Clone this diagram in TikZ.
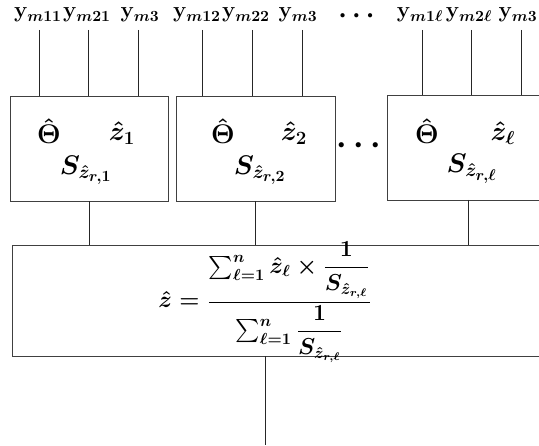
\documentclass[tikz,border=0pt]{standalone}
\usepackage{amsmath}
\begin{document}
\begin{tikzpicture}[x=1pt,y=-1pt,
  wire/.style={draw=black!85,line width=0.6pt},
  blk/.style={draw=black!75,line width=0.8pt,inner sep=0pt},
  lab/.style={font=\Large\boldmath,inner sep=0pt,scale=1.55},
  inbox/.style={font=\LARGE\boldmath,inner sep=0pt,scale=1.56},
  dotsty/.style={font=\boldmath,inner sep=0pt},
  formula/.style={font=\Large\boldmath,inner sep=0pt,scale=1.6}]
\useasboundingbox (0,0) rectangle (539,446);
\clip (0,0) rectangle (539,446);
% blocks
\node[blk,minimum width=158pt,minimum height=105pt] (b1) at (89,148.5) {};
\node[blk,minimum width=159pt,minimum height=105pt] (b2) at (255.5,148.5) {};
\node[blk,minimum width=160pt,minimum height=105pt] (b3) at (467,148) {};
\node[blk,minimum width=560pt,minimum height=111pt] (big) at (292,300.5) {};
% top labels
\node[lab] (l11) at (38,15) {$\mathbf{y}_{m11}$};
\node[lab] (l21) at (87,15) {$\mathbf{y}_{m21}$};
\node[lab] (l31) at (140,15) {$\mathbf{y}_{m3}$};
\node[lab] (l12) at (197,15) {$\mathbf{y}_{m12}$};
\node[lab] (l22) at (246,15) {$\mathbf{y}_{m22}$};
\node[lab] (l32) at (298,15) {$\mathbf{y}_{m3}$};
\node[dotsty,scale=2.7] (tdots) at (359,16) {$\cdots$};
\node[lab] (l1l) at (420,15) {$\mathbf{y}_{m1\ell}$};
\node[lab] (l2l) at (469,15) {$\mathbf{y}_{m2\ell}$};
\node[lab] (l3l) at (518,15) {$\mathbf{y}_{m3}$};
% wires top
\coordinate (t11) at (39,30);
\coordinate (t21) at (88,30);
\coordinate (t31) at (138,30);
\coordinate (t12) at (202,30);
\coordinate (t22) at (252,30);
\coordinate (t32) at (302,30);
\coordinate (t1l) at (422,30);
\coordinate (t2l) at (471,30);
\coordinate (t3l) at (521,30);
\foreach \c/\b in {t11/b1,t21/b1,t31/b1,t12/b2,t22/b2,t32/b2,t1l/b3,t2l/b3,t3l/b3}
  \draw[wire] (\c) -- (\c |- \b.north);
% box contents
\node[inbox] (th1) at (49,131) {$\hat{\Theta}$};
\node[inbox] (z1) at (122,133) {$\hat{z}_1$};
\node[inbox] (s1) at (86,170) {$S_{\hat{z}_{r,1}}$};
\node[inbox] (th2) at (223,131) {$\hat{\Theta}$};
\node[inbox] (z2) at (294,133) {$\hat{z}_2$};
\node[inbox] (s2) at (260,170) {$S_{\hat{z}_{r,2}}$};
\node[inbox] (th3) at (427,131) {$\hat{\Theta}$};
\node[inbox] (z3) at (503,133) {$\hat{z}_\ell$};
\node[inbox] (s3) at (472,169) {$S_{\hat{z}_{r,\ell}}$};
\node[dotsty,scale=3.3] (bdots) at (362,146) {$\cdots$};
% formula
\node[formula] (f) at (265,302) {$\hat{z}=\dfrac{\textstyle\sum_{\ell=1}^{n}\hat{z}_\ell\times\dfrac{1}{S_{\hat{z}_{r,\ell}}}}{\textstyle\sum_{\ell=1}^{n}\dfrac{1}{S_{\hat{z}_{r,\ell}}}}$};
% wires down
\draw[wire] (b1.south) -- (b1.south |- big.north);
\draw[wire] (b2.south) -- (b2.south |- big.north);
\coordinate (d3) at (468,200);
\draw[wire] (d3) -- (d3 |- big.north);
\coordinate (out) at (265,445);
\draw[wire] (out |- big.south) -- (out);
\end{tikzpicture}
\end{document}
